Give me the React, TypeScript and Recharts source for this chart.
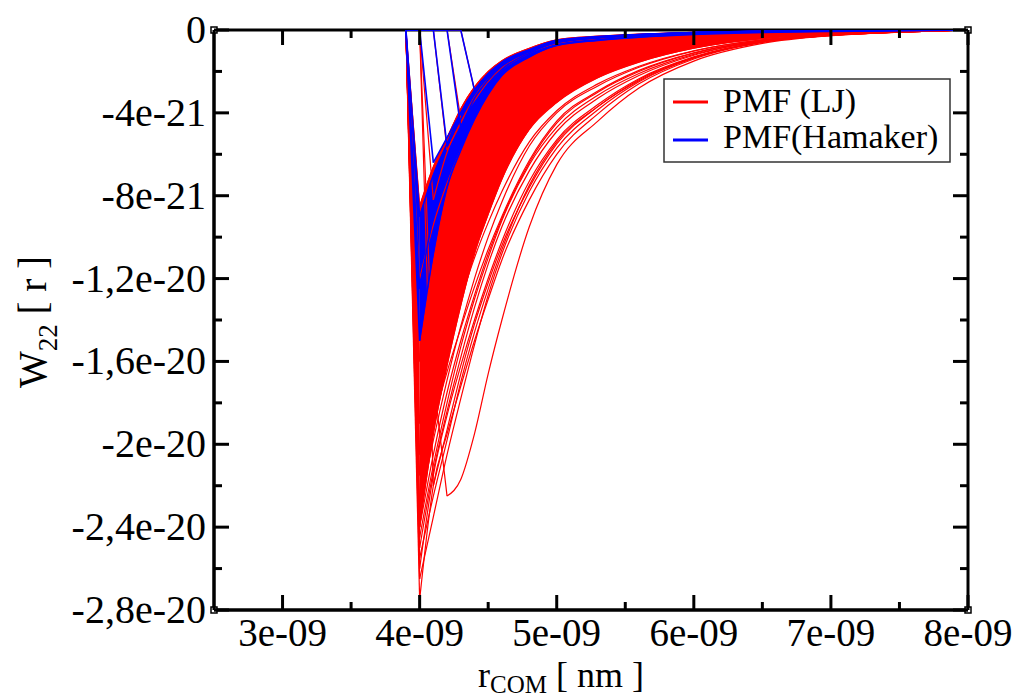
import React from "react";
import { ComposedChart, Line, Area, XAxis, YAxis, Customized } from "recharts";

// r in units of 1e-9, W22 in units of 1e-21
const rGrid = [3.9, 4.0, 4.1, 4.2, 4.3, 4.4, 4.5, 4.6, 4.8, 5.0, 5.3, 5.6, 6.0, 6.5, 7.0, 7.5, 8.0];

// PMF (LJ) curves
const ljShallow = [0, -8.5, -6.6, -5.2, -3.8, -2.75, -2.0, -1.48, -0.88, -0.47, -0.3, -0.2, -0.11, -0.055, -0.025, -0.01, 0];
const ljMid1 = [0, -12, -9.4, -7.4, -5.8, -4.5, -3.5, -2.7, -1.7, -1.1, -0.7, -0.45, -0.27, -0.14, -0.08, -0.03, 0];
const ljMid2 = [0, -16, -13.0, -10.6, -8.6, -6.9, -5.5, -4.4, -2.9, -1.9, -1.2, -0.8, -0.48, -0.25, -0.13, -0.06, 0];
const ljMid3 = [0, -19, -15.8, -13.1, -10.8, -8.9, -7.3, -5.9, -3.9, -2.7, -1.75, -1.2, -0.7, -0.36, -0.18, -0.07, 0];
const ljEdge = [0, -24, -19.5, -16.2, -13.3, -10.8, -8.9, -7.2, -4.8, -3.5, -2.3, -1.55, -0.88, -0.42, -0.21, -0.08, 0];
const ljSparse1 = [0, -23, -19.8, -16.9, -14.3, -12.0, -10.0, -8.3, -5.6, -4.0, -2.7, -1.8, -1.02, -0.48, -0.23, -0.09, 0];
const ljSparse2 = [0, -24, -20.5, -17.5, -15.0, -12.8, -10.8, -9.1, -6.4, -4.5, -3.0, -2.0, -1.12, -0.51, -0.24, -0.09, 0];
const ljSparse3 = [0, -25, -21.3, -18.4, -15.8, -13.4, -11.3, -9.5, -6.8, -4.9, -3.3, -2.2, -1.22, -0.54, -0.25, -0.1, 0];
const ljSparse4 = [0, -26, -21.5, -18.6, -16.2, -14.0, -12.0, -10.2, -7.3, -5.3, -3.6, -2.35, -1.3, -0.56, -0.25, -0.1, 0];
const ljSparse5 = [0, -26.5, -23.5, -20.5, -17.8, -15.2, -12.8, -10.8, -7.8, -5.7, -3.85, -2.5, -1.35, -0.58, -0.26, -0.1, 0];
const ljSparse6 = [0, -27.5, -22, -19.5, -17.2, -15.0, -13.0, -11.1, -8.2, -6.0, -4.05, -2.6, -1.4, -0.6, -0.26, -0.1, 0];
const ljSparse7 = [0, -20.5, -17.8, -15.2, -13.0, -11.0, -9.3, -7.8, -5.4, -3.9, -2.6, -1.75, -1.0, -0.47, -0.23, -0.09, 0];
const ljSparse8 = [0, -21.5, -18.9, -16.5, -14.4, -12.4, -10.6, -9.0, -6.3, -4.4, -2.95, -1.95, -1.1, -0.5, -0.24, -0.09, 0];
const ljSparse9 = [0, -25.5, -22.5, -19.8, -17.0, -14.6, -12.5, -10.6, -7.5, -5.4, -3.7, -2.4, -1.32, -0.57, -0.26, -0.1, 0];
const ljSparse10 = [0, -24.5, -21.0, -18.0, -15.3, -13.0, -11.0, -9.2, -6.5, -4.7, -3.15, -2.1, -1.18, -0.53, -0.25, -0.1, 0];
const ljLate40 = [0, 0, -8.2, -5.9, -4.4, -3.2, -2.35, -1.75, -1.05, -0.6, -0.38, -0.25, -0.14, -0.07, -0.03, -0.01, 0];
const ljLate41 = [0, 0, 0, -5.8, -4.5, -3.3, -2.4, -1.8, -1.08, -0.62, -0.39, -0.26, -0.14, -0.07, -0.03, -0.01, 0];
const ljLate42 = [0, 0, 0, 0, -4.3, -3.4, -2.5, -1.85, -1.1, -0.63, -0.4, -0.26, -0.15, -0.07, -0.03, -0.01, 0];
const ljLate43 = [0, 0, 0, 0, 0, -2.9, -2.5, -1.9, -1.12, -0.64, -0.4, -0.27, -0.15, -0.07, -0.03, -0.01, 0];
const ljLateDeep = [0, 0, -22, -19.3, -16.6, -14.2, -12.2, -10.4, -7.6, -5.5, -3.7, -2.45, -1.35, -0.58, -0.26, -0.1, 0];
const ljOutlier = [0, 0, -16.8, -22.5, -21.7, -19.5, -16.6, -14.0, -9.5, -6.5, -4.4, -2.8, -1.5, -0.65, -0.27, -0.1, 0];

// PMF (Hamaker) curves
const hkShallow = [0, -9, -7.0, -5.5, -4.0, -2.9, -2.1, -1.55, -0.95, -0.5, -0.32, -0.22, -0.12, -0.06, -0.03, -0.01, 0];
const hkMid = [0, -12.5, -9.0, -6.6, -4.9, -3.6, -2.6, -1.9, -1.12, -0.62, -0.4, -0.28, -0.17, -0.09, -0.05, -0.02, 0];
const hkDeep = [0, -15, -10.8, -7.6, -5.8, -4.3, -3.1, -2.2, -1.3, -0.75, -0.5, -0.35, -0.22, -0.12, -0.07, -0.03, 0];
const hkLate40 = [0, 0, -6.4, -5.2, -4.0, -2.95, -2.15, -1.6, -0.98, -0.52, -0.33, -0.22, -0.12, -0.06, -0.03, -0.01, 0];
const hkLate41 = [0, 0, 0, -5.6, -4.3, -3.1, -2.25, -1.65, -1.0, -0.55, -0.35, -0.23, -0.13, -0.07, -0.03, -0.01, 0];
const hkLate42 = [0, 0, 0, 0, -4.7, -3.3, -2.4, -1.75, -1.05, -0.58, -0.36, -0.24, -0.13, -0.07, -0.03, -0.01, 0];
const hkLate43 = [0, 0, 0, 0, 0, -2.9, -2.3, -1.7, -1.02, -0.56, -0.35, -0.23, -0.13, -0.07, -0.03, -0.01, 0];

const xMajor = [3, 4, 5, 6, 7, 8];
const xMinor = [3.5, 4.5, 5.5, 6.5, 7.5];
const xTickLabels = ["3e-09", "4e-09", "5e-09", "6e-09", "7e-09", "8e-09"];
const yMajor = [0, -4, -8, -12, -16, -20, -24, -28];
const yMinor = [-2, -6, -10, -14, -18, -22, -26];
const yTickLabels = ["0", "-4e-21", "-8e-21", "-1,2e-20", "-1,6e-20", "-2e-20", "-2,4e-20", "-2,8e-20"];

const ljLines: Record<string, number[]> = {
	ljShallow, ljMid1, ljMid2, ljMid3, ljEdge,
	ljSparse1, ljSparse2, ljSparse3, ljSparse4, ljSparse5, ljSparse6,
	ljSparse7, ljSparse8, ljSparse9, ljSparse10,
	ljLate40, ljLate41, ljLate42, ljLate43, ljLateDeep, ljOutlier,
};
const hkLines: Record<string, number[]> = {
	hkShallow, hkMid, hkDeep, hkLate40, hkLate41, hkLate42, hkLate43,
};

// each curve is drawn in two pieces: the straight drop down to its minimum,
// and the smooth rise after it
const minIndex = (v: number[]) => v.indexOf(Math.min(...v));

const data = rGrid.map((r, i) => {
	const row: Record<string, number | number[] | null> = { r };
	for (const [k, v] of Object.entries({ ...ljLines, ...hkLines })) {
		const m = minIndex(v);
		row[k + "Head"] = i <= m ? v[i] : null;
		row[k + "Tail"] = i >= m ? v[i] : null;
	}
	const mb = minIndex(ljEdge);
	row.ljBandHead = i <= mb ? [ljShallow[i], ljEdge[i]] : null;
	row.ljBandTail = i >= mb ? [ljShallow[i], ljEdge[i]] : null;
	const hb = minIndex(hkDeep);
	row.hkBandHead = i <= hb ? [hkShallow[i], hkDeep[i]] : null;
	row.hkBandTail = i >= hb ? [hkShallow[i], hkDeep[i]] : null;
	return row;
});

const W = 1020;
const H = 699;
// plot area: x 214..968, y 30..610
const plotLeft = 214;
const plotRight = 968;
const plotTop = 30;
const plotBottom = 610;
const bottomAxisH = 40;
const leftAxisW = 10;
const margin = {
	top: plotTop - 1,
	right: W - plotRight - 1,
	bottom: H - plotBottom - bottomAxisH,
	left: plotLeft - leftAxisW,
};

const FONT = "'Liberation Serif', 'Times New Roman', serif";
const RED = "#ff0000";
const BLUE = "#0000ff";
const MAJOR = 15;
const MINOR = 8;
const TS = 1; // recharts tickSize; the custom ticks step back over it

const xTicks = [...xMajor, ...xMinor].sort((a, b) => a - b);
const yTicks = [...yMajor, ...yMinor].sort((a, b) => a - b);

function BottomTick(props: any) {
	const { x, payload } = props;
	const y = props.y - TS;
	const i = xMajor.indexOf(payload.value);
	return (
		<g>
			<line x1={x} y1={y} x2={x} y2={y - (i >= 0 ? MAJOR : MINOR)} stroke="#000" strokeWidth={3} />
			{i >= 0 && (
				<text x={x} y={y + 36} textAnchor="middle" fontFamily={FONT} fontSize={39} fill="#000">
					{xTickLabels[i]}
				</text>
			)}
		</g>
	);
}

function TopTick(props: any) {
	const { x, payload } = props;
	const y = props.y + TS;
	const len = xMajor.includes(payload.value) ? MAJOR : MINOR;
	return <line x1={x} y1={y} x2={x} y2={y + len} stroke="#000" strokeWidth={3} />;
}

function LeftTick(props: any) {
	const { y, payload } = props;
	const x = props.x + TS;
	const i = yMajor.indexOf(payload.value);
	return (
		<g>
			<line x1={x} y1={y} x2={x + (i >= 0 ? MAJOR : MINOR)} y2={y} stroke="#000" strokeWidth={3} />
			{i >= 0 && (
				<text x={x - 8} y={y + 13} textAnchor="end" fontFamily={FONT} fontSize={40} fill="#000">
					{yTickLabels[i]}
				</text>
			)}
		</g>
	);
}

function RightTick(props: any) {
	const { y, payload } = props;
	const x = props.x - TS;
	const len = yMajor.includes(payload.value) ? MAJOR : MINOR;
	return <line x1={x} y1={y} x2={x - len} y2={y} stroke="#000" strokeWidth={3} />;
}

function Overlay() {
	const corners = [
		[plotLeft, plotTop],
		[plotLeft, plotBottom],
		[plotRight, plotBottom],
		[plotRight, plotTop],
	];
	return (
		<g>
			<rect
				x={plotLeft}
				y={plotTop}
				width={plotRight - plotLeft}
				height={plotBottom - plotTop}
				fill="none"
				stroke="#000"
				strokeWidth={3}
			/>
			{corners.map(([cx, cy], k) => (
				<rect key={k} x={cx - 3} y={cy - 3} width={6} height={6} fill="#fff" stroke="#000" strokeWidth={1.5} />
			))}

			{/* axis titles */}
			<text x={478} y={687} fontFamily={FONT} fontSize={36} fill="#000">
				r
				<tspan dy={6} fontSize={25}>COM</tspan>
				<tspan dy={-6} fontSize={36}> [ nm ]</tspan>
			</text>
			<text transform="translate(46, 388) rotate(-90)" fontFamily={FONT} fontSize={39} fill="#000">
				W
				<tspan dy={11} fontSize={27}>22</tspan>
				<tspan dy={-11} fontSize={39}> [ r ]</tspan>
			</text>

			{/* legend */}
			<rect x={664} y={79} width={286} height={83} fill="#fff" stroke="#333" strokeWidth={1.5} />
			<line x1={673} y1={102} x2={708} y2={102} stroke={RED} strokeWidth={3} />
			<text x={723} y={112} fontFamily={FONT} fontSize={34} fill="#000">PMF (LJ)</text>
			<line x1={673} y1={140} x2={708} y2={140} stroke={BLUE} strokeWidth={3} />
			<text x={723} y={148} fontFamily={FONT} fontSize={34} fill="#000">PMF(Hamaker)</text>
		</g>
	);
}

function bandPieces(key: string, color: string) {
	return ["Head", "Tail"].map((p) => (
		<Area
			key={key + p}
			dataKey={key + p}
			type={p === "Head" ? "linear" : "monotoneX"}
			fill={color}
			fillOpacity={1}
			stroke={color}
			strokeWidth={1}
			isAnimationActive={false}
			dot={false}
			activeDot={false}
		/>
	));
}

function curvePieces(keys: string[], color: string, width: number) {
	return keys.flatMap((k) =>
		["Head", "Tail"].map((p) => (
			<Line
				key={k + p}
				dataKey={k + p}
				type={p === "Head" ? "linear" : "monotoneX"}
				stroke={color}
				strokeWidth={width}
				dot={false}
				activeDot={false}
				isAnimationActive={false}
			/>
		)),
	);
}

export default function App() {
	return (
		<div style={{ position: "absolute", left: 0, top: 0, width: W, height: H, background: "#fff" }}>
			<ComposedChart width={W} height={H} data={data} margin={margin}>
				<XAxis
					dataKey="r"
					type="number"
					domain={[2.5, 8]}
					allowDataOverflow
					ticks={xTicks}
					interval={0}
					height={bottomAxisH}
					tickSize={TS}
					tickMargin={0}
					tickLine={false}
					axisLine={{ stroke: "#000", strokeWidth: 3 }}
					tick={<BottomTick />}
				/>
				<XAxis
					xAxisId="top"
					dataKey="r"
					orientation="top"
					type="number"
					domain={[2.5, 8]}
					allowDataOverflow
					ticks={xTicks}
					interval={0}
					height={1}
					tickSize={TS}
					tickMargin={0}
					tickLine={false}
					axisLine={false}
					tick={<TopTick />}
				/>
				<YAxis
					type="number"
					domain={[-28, 0]}
					allowDataOverflow
					ticks={yTicks}
					interval={0}
					width={leftAxisW}
					tickSize={TS}
					tickMargin={0}
					tickLine={false}
					axisLine={{ stroke: "#000", strokeWidth: 3 }}
					tick={<LeftTick />}
				/>
				<YAxis
					yAxisId="right"
					orientation="right"
					type="number"
					domain={[-28, 0]}
					allowDataOverflow
					ticks={yTicks}
					interval={0}
					width={1}
					tickSize={TS}
					tickMargin={0}
					tickLine={false}
					axisLine={false}
					tick={<RightTick />}
				/>

				{bandPieces("ljBand", RED)}
				{curvePieces(Object.keys(ljLines), RED, 1.2)}
				{bandPieces("hkBand", BLUE)}
				{curvePieces(Object.keys(hkLines), BLUE, 1.6)}
				<Customized component={Overlay} />
			</ComposedChart>
		</div>
	);
}
